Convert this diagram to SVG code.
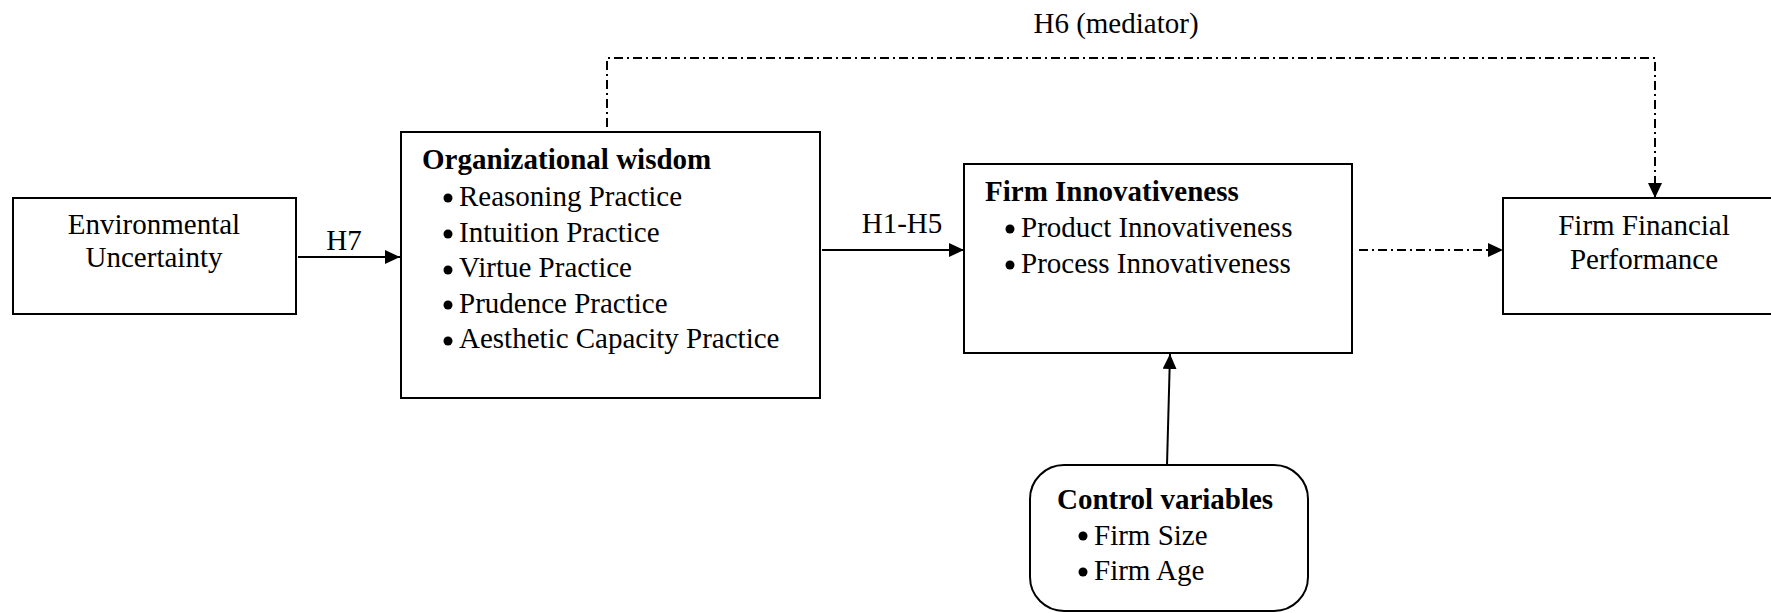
<svg xmlns="http://www.w3.org/2000/svg" width="1771" height="613" viewBox="0 0 1771 613">
  <defs>
    <marker id="arrow" viewBox="0 0 15 14" refX="15" refY="7" markerWidth="15" markerHeight="14" markerUnits="userSpaceOnUse" orient="auto">
      <path d="M0,0 L15,7 L0,14 Z" fill="#000"/>
    </marker>
    <style>
      .box { fill: #fff; stroke: #000; stroke-width: 2; }
      .txt { font-family: "Liberation Serif", "Times New Roman", serif; font-size: 29px; fill: #000; }
      .bold { font-weight: bold; }
      .mid { text-anchor: middle; }
      .solid { fill: none; stroke: #000; stroke-width: 2; }
      .dashdot { fill: none; stroke: #000; stroke-width: 2; stroke-dasharray: 9 4 2 4; }
      .dot { fill: #000; }
    </style>
  </defs>
  <rect width="1771" height="613" fill="#fff"/>

  <!-- connectors -->
  <g id="connectors">
    <line class="solid" x1="298" y1="257" x2="400" y2="257" marker-end="url(#arrow)"/>
    <text class="txt mid" x="344" y="250">H7</text>
    <line class="solid" x1="822" y1="250" x2="964" y2="250" marker-end="url(#arrow)"/>
    <text class="txt mid" x="902" y="233">H1-H5</text>
    <polyline class="dashdot" points="607,127 607,58 1655,58 1655,198" marker-end="url(#arrow)"/>
    <text class="txt mid" x="1116" y="33">H6 (mediator)</text>
    <line class="dashdot" x1="1359" y1="250" x2="1503" y2="250" marker-end="url(#arrow)"/>
    <line class="solid" x1="1167" y1="465" x2="1170" y2="354" marker-end="url(#arrow)"/>
  </g>

  <!-- Environmental Uncertainty -->
  <g id="env">
    <rect class="box" x="13" y="198" width="283" height="116"/>
    <text class="txt mid" x="154" y="234">Environmental</text>
    <text class="txt mid" x="154" y="267">Uncertainty</text>
  </g>

  <!-- Organizational wisdom -->
  <g id="wisdom">
    <rect class="box" x="401" y="132" width="419" height="266"/>
    <text class="txt bold" x="422" y="169">Organizational wisdom</text>
    <circle class="dot" cx="448" cy="198" r="4.5"/>
    <text class="txt" x="459" y="206">Reasoning Practice</text>
    <circle class="dot" cx="448" cy="234" r="4.5"/>
    <text class="txt" x="459" y="242">Intuition Practice</text>
    <circle class="dot" cx="448" cy="270" r="4.5"/>
    <text class="txt" x="459" y="277">Virtue Practice</text>
    <circle class="dot" cx="448" cy="305" r="4.5"/>
    <text class="txt" x="459" y="313">Prudence Practice</text>
    <circle class="dot" cx="448" cy="341" r="4.5"/>
    <text class="txt" x="459" y="348">Aesthetic Capacity Practice</text>
  </g>

  <!-- Firm Innovativeness -->
  <g id="innov">
    <rect class="box" x="964" y="164" width="388" height="189"/>
    <text class="txt bold" x="985" y="201">Firm Innovativeness</text>
    <circle class="dot" cx="1010" cy="229" r="4.5"/>
    <text class="txt" x="1021" y="237">Product Innovativeness</text>
    <circle class="dot" cx="1010" cy="265" r="4.5"/>
    <text class="txt" x="1021" y="273">Process Innovativeness</text>
  </g>

  <!-- Firm Financial Performance -->
  <g id="perf">
    <rect class="box" x="1503" y="198" width="300" height="116"/>
    <text class="txt mid" x="1644" y="235">Firm Financial</text>
    <text class="txt mid" x="1644" y="269">Performance</text>
  </g>

  <!-- Control variables -->
  <g id="control">
    <rect class="box" x="1030" y="465" width="278" height="146" rx="34" ry="34"/>
    <text class="txt bold" x="1057" y="509">Control variables</text>
    <circle class="dot" cx="1083" cy="536" r="4.5"/>
    <text class="txt" x="1094" y="545">Firm Size</text>
    <circle class="dot" cx="1083" cy="572" r="4.5"/>
    <text class="txt" x="1094" y="580">Firm Age</text>
  </g>
</svg>
